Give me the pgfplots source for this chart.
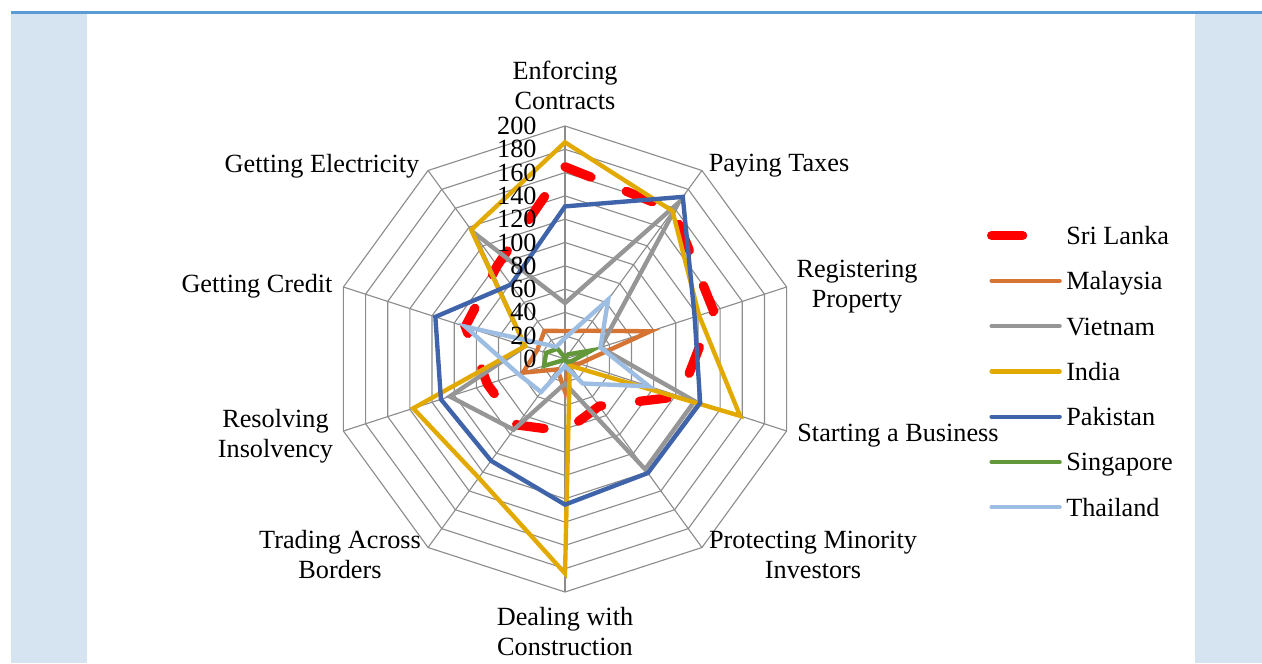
\documentclass[border=0pt]{standalone}
\usepackage{fontspec}
\setmainfont{Liberation Serif}
\usepackage{pgfplots}
\pgfplotsset{compat=1.18}

\definecolor{cSL}{RGB}{255,0,0}
\definecolor{cMY}{RGB}{214,116,52}
\definecolor{cVN}{RGB}{150,150,150}
\definecolor{cIN}{RGB}{226,170,0}
\definecolor{cPK}{RGB}{64,100,170}
\definecolor{cSG}{RGB}{99,152,58}
\definecolor{cTH}{RGB}{157,189,227}
\definecolor{gridc}{RGB}{140,140,140}
\definecolor{band}{RGB}{214,228,242}
\definecolor{topline}{RGB}{91,155,213}

\pgfplotsset{
  ser/.style={data cs=polar, line width=1.75pt, line cap=round, line join=miter},
  ring/.style={data cs=polar, gridc, line width=0.45pt, forget plot},
}

\begin{document}
\fontsize{10.5}{12}\selectfont
\begin{tikzpicture}
\useasboundingbox (0,0) rectangle (504.8pt,265.2pt);
\fill[band] (4.4pt,0) rectangle (34.8pt,259.6pt);
\fill[band] (478pt,0) rectangle (504.8pt,259.6pt);
\draw[topline, line width=1.2pt] (4.4pt,260.2pt) -- (504.8pt,260.2pt);

\begin{axis}[
  at={(226pt,121.6pt)}, anchor=center,
  width=186.4pt, height=186.4pt, scale only axis,
  xmin=-200, xmax=200, ymin=-200, ymax=200,
  hide axis, clip=false,
  legend cell align=left,
  legend image code/.code={\draw[#1] (0pt,1.1pt) -- (27.2pt,1.1pt);},
  legend style={at={(1.3884,0.7951)}, anchor=north west, draw=none, fill=none,
    font=\fontsize{10.5}{12}\selectfont,
    nodes={inner sep=0pt, text height=7pt, text depth=2pt},
    row sep=9.12pt, column sep=0.8pt},
]

% decagon rings
\pgfplotsinvokeforeach{20,40,60,80,100,120,140,160,180,200}{
  \addplot[ring] coordinates {(90,#1) (54,#1) (18,#1) (342,#1) (306,#1)
    (270,#1) (234,#1) (198,#1) (162,#1) (126,#1)} -- cycle;
}
% spokes
\pgfplotsinvokeforeach{90,54,18,342,306,270,234,198,162,126}{
  \addplot[ring] coordinates {(#1,0) (#1,200)};
}

% order: Enforcing, Paying Taxes, Registering, Starting, Protecting,
% Construction, Trading, Resolving, Credit, Electricity
\addplot[ser, cSL, line width=3.7pt, dash pattern=on 11.2pt off 15.2pt,
  legend image post style={dash pattern=on 12.4pt off 30pt}] coordinates {
(90,165) (54,158) (18,134) (342,104) (306,50)
(270,62) (234,70) (198,70) (162,90) (126,99)} -- cycle;
\addlegendentry{Sri Lanka}

\addplot[ser, cMY] coordinates {
(90,24) (54,30) (18,77) (342,13) (306,5)
(270,28) (234,11) (198,38) (162,25) (126,30)} -- cycle;
\addlegendentry{Malaysia}

\addplot[ser, cVN] coordinates {
(90,48) (54,166) (18,32) (342,117) (306,117)
(270,21) (234,75) (198,104) (162,36) (126,135)} -- cycle;
\addlegendentry{Vietnam}

\addplot[ser, cIN] coordinates {
(90,186) (54,157) (18,121) (342,158) (306,7)
(270,184) (234,126) (198,137) (162,36) (126,137)} -- cycle;
\addlegendentry{India}

\addplot[ser, cPK] coordinates {
(90,131) (54,172) (18,117) (342,122) (306,121)
(270,125) (234,108) (198,112) (162,117) (126,79)} -- cycle;
\addlegendentry{Pakistan}

\addplot[ser, cSG] coordinates {
(90,1) (54,5) (18,24) (342,6) (306,3)
(270,1) (234,1) (198,19) (162,17) (126,11)} -- cycle;
\addlegendentry{Singapore}

\addplot[ser, cTH] coordinates {
(90,18) (54,63) (18,32) (342,76) (306,26)
(270,6) (234,35) (198,42) (162,90) (126,13)} -- cycle;
\addlegendentry{Thailand}
\end{axis}

% radial tick labels
\foreach \v in {0,20,...,200}
  \node[anchor=east, inner sep=0pt] at (214.8pt,{121.6pt+0.466pt*\v}) {\v};

% category labels
\node[align=center] at (226pt,231.2pt) {Enforcing\\Contracts};
\node at (311.6pt,198.8pt) {Paying Taxes};
\node[align=center] at (342.8pt,150.4pt) {Registering\\Property};
\node at (359.2pt,90.8pt) {Starting a Business};
\node[align=center] at (325.2pt,43.2pt) {Protecting Minority\\Investors};
\node[align=center] at (226pt,12.4pt) {Dealing with\\Construction};
\node[align=center] at (136pt,43.2pt) {Trading Across\\Borders};
\node[align=center] at (110.2pt,90.6pt) {Resolving\\Insolvency};
\node at (102.8pt,150.8pt) {Getting Credit};
\node at (128.8pt,198.8pt) {Getting Electricity};
\end{tikzpicture}
\end{document}
